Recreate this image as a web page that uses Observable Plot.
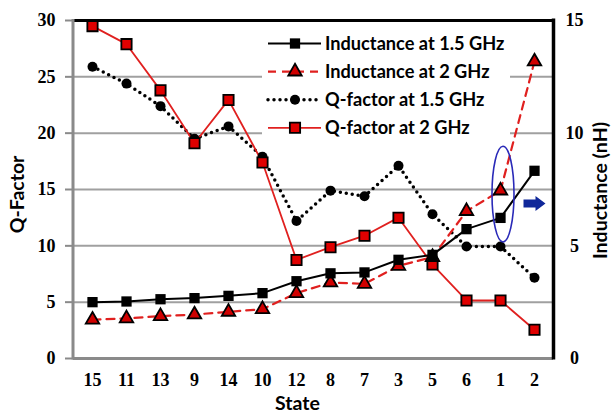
<!DOCTYPE html>
<html><head><meta charset="utf-8">
<script src="https://cdn.jsdelivr.net/npm/d3@7"></script>
<script src="https://cdn.jsdelivr.net/npm/@observablehq/plot@0.6"></script>
<style>body{margin:0;background:#fff}</style>
</head><body><div id="chart"></div>
<script>
// ---- data ----
const states = ["15","11","13","9","14","10","12","8","7","3","5","6","1","2"];
const ind15 = [2.5,2.53,2.63,2.68,2.78,2.9,3.43,3.78,3.82,4.38,4.6,5.74,6.24,8.33];   // nH
const ind2  = [1.72,1.78,1.88,1.95,2.07,2.19,2.9,3.37,3.31,4.11,4.5,6.54,7.45,13.18]; // nH
const q15   = [25.9,24.4,22.4,19.5,20.6,17.9,12.2,14.9,14.4,17.1,12.8,9.94,9.94,7.16];
const q2    = [29.5,27.9,23.8,19.1,22.95,17.4,8.75,9.88,10.9,12.5,8.34,5.15,5.15,2.55];
const qTicks = [0,5,10,15,20,25,30];
const lTicks = [0,5,10,15];
const gridQ = [5,10,15,20,25];
const seriesNames = ["Inductance at 1.5 GHz","Inductance at 2 GHz","Q-factor at 1.5 GHz","Q-factor at 2 GHz"];
const highlightState = "1";
const highlightRange = [10.3, 18.8];   // Q-axis units
const arrowState = "2";
const arrowValue = 13.75;             // Q-axis units

(function () {
const ratio = 30 / 15; // Q-axis per nH
const rows = states.map((s, i) => ({state: s, ind15: ind15[i], ind2: ind2[i], q15: q15[i], q2: q2[i]}));

const RED = "#e0201f";
const serif = "'Liberation Serif', 'Times New Roman', serif";
const sans = "Lato, 'Open Sans', sans-serif";

const arrowSymbol = {
  draw(ctx) {
    ctx.moveTo(-11, -4); ctx.lineTo(1, -4); ctx.lineTo(1, -7.5); ctx.lineTo(11, 0);
    ctx.lineTo(1, 7.5); ctx.lineTo(1, 4); ctx.lineTo(-11, 4); ctx.closePath();
  }
};

const plot = Plot.plot({
  width: 611, height: 414,
  marginLeft: 73, marginRight: 58, marginTop: 20, marginBottom: 56,
  x: {type: "point", domain: states, padding: 0.5, axis: null},
  y: {domain: [0, 30], axis: null},
  marks: [
    Plot.ruleY(gridQ, {stroke: "#a0a0a0", strokeWidth: 2}),
    Plot.ruleY([0], {stroke: "#8a8a8a", strokeWidth: 3}),
    Plot.ruleY([30], {stroke: "#000", strokeWidth: 3}),
    Plot.axisY(qTicks, {anchor: "left", tickSize: 8, tickPadding: 10, stroke: "#8a8a8a", strokeWidth: 2,
      fill: "#000", fontFamily: serif, fontWeight: "bold", fontSize: 18, label: null}),
    Plot.axisY(lTicks.map(d => d * ratio), {anchor: "right", tickSize: 0, tickPadding: 21, textAnchor: "middle",
      tickFormat: d => d / ratio, fill: "#000", fontFamily: serif, fontWeight: "bold", fontSize: 18, label: null}),
    Plot.axisX({anchor: "bottom", tickSize: 0, tickPadding: 15, fill: "#000",
      fontFamily: serif, fontWeight: "bold", fontSize: 18, label: null}),
    Plot.text(["Q-Factor"], {frameAnchor: "left", textAnchor: "middle", lineAnchor: "middle", dx: -56, dy: 5, rotate: -90,
      fontFamily: sans, fontWeight: "bold", fontSize: 19.5, fill: "#000"}),
    Plot.text(["Inductance (nH)"], {frameAnchor: "right", textAnchor: "middle", lineAnchor: "middle", dx: 47, dy: 1, rotate: -90,
      fontFamily: sans, fontWeight: "bold", fontSize: 19.5, fill: "#000"}),
    Plot.text(["State"], {frameAnchor: "bottom", textAnchor: "middle", lineAnchor: "middle", dx: -16, dy: 45,
      fontFamily: sans, fontWeight: "bold", fontSize: 19.5, fill: "#000"}),
    // series
    Plot.line(rows, {x: "state", y: d => d.q15, stroke: "#000", strokeWidth: 3.5, strokeDasharray: "0,6", strokeLinecap: "round"}),
    Plot.line(rows, {x: "state", y: d => d.q2, stroke: RED, strokeWidth: 1.8}),
    Plot.line(rows, {x: "state", y: d => d.ind2 * ratio, stroke: RED, strokeWidth: 2.2, strokeDasharray: "8,6"}),
    Plot.line(rows, {x: "state", y: d => d.ind15 * ratio, stroke: "#000", strokeWidth: 2}),
    Plot.dot(rows, {x: "state", y: d => d.q15, r: 5, fill: "#000"}),
    Plot.dot(rows, {x: "state", y: d => d.q2, symbol: "square", r: 5.8, fill: "#e00000", stroke: "#000", strokeWidth: 1.8}),
    Plot.dot(rows, {x: "state", y: d => d.ind2 * ratio, symbol: "triangle", r: 5, fill: "#d00000", stroke: "#000", strokeWidth: 1.8}),
    Plot.dot(rows, {x: "state", y: d => d.ind15 * ratio, symbol: "square", r: 5.8, fill: "#000"}),
    Plot.dot([{s: arrowState, v: arrowValue}], {x: "s", y: "v", symbol: arrowSymbol, fill: "#10289a"})
  ]
});

const svg = d3.select(plot);
const xS = plot.scale("x"), yS = plot.scale("y");
const yTop = yS.apply(30), yBot = yS.apply(0);
// frame verticals
svg.append("line").attr("x1", 73).attr("x2", 73).attr("y1", yTop - 1).attr("y2", yBot + 1.5)
  .attr("stroke", "#8a8a8a").attr("stroke-width", 3);
svg.append("line").attr("x1", 553.5).attr("x2", 553.5).attr("y1", yTop - 1.5).attr("y2", yBot + 1.5)
  .attr("stroke", "#000").attr("stroke-width", 3.5);
// highlight ellipse
const cy = (yS.apply(highlightRange[0]) + yS.apply(highlightRange[1])) / 2;
const ry = (yS.apply(highlightRange[0]) - yS.apply(highlightRange[1])) / 2;
svg.append("ellipse").attr("cx", xS.apply(highlightState) + 3).attr("cy", cy).attr("rx", 11).attr("ry", ry)
  .attr("fill", "none").attr("stroke", "#2a2ab8").attr("stroke-width", 1.6);

// legend
const lg = svg.append("g").attr("text-anchor", "start");
lg.append("rect").attr("x", 262).attr("y", 28).attr("width", 248).attr("height", 112).attr("fill", "#fff");
const styles = [
  {stroke: "#000", w: 2, dash: "none", cap: "butt", sym: d3.symbolSquare, r: 5.8, fill: "#000", ms: "none"},
  {stroke: RED, w: 2.2, dash: "8,6", cap: "butt", sym: d3.symbolTriangle, r: 5, fill: "#d00000", ms: "#000"},
  {stroke: "#000", w: 3.5, dash: "0,6", cap: "round", sym: d3.symbolCircle, r: 5, fill: "#000", ms: "none"},
  {stroke: RED, w: 1.8, dash: "none", cap: "butt", sym: d3.symbolSquare, r: 5.8, fill: "#e00000", ms: "#000"}
];
seriesNames.forEach((name, i) => {
  const st = styles[i];
  const yy = 43.5 + i * 28.1;
  lg.append("line").attr("x1", 268).attr("x2", 321).attr("y1", yy).attr("y2", yy)
    .attr("stroke", st.stroke).attr("stroke-width", st.w).attr("stroke-dasharray", st.dash)
    .attr("stroke-linecap", st.cap);
  lg.append("path").attr("transform", `translate(295,${yy})`)
    .attr("d", d3.symbol(st.sym, st.r * st.r * Math.PI)())
    .attr("fill", st.fill).attr("stroke", st.ms).attr("stroke-width", 1.8);
  lg.append("text").attr("x", 325).attr("y", yy).attr("dy", "0.36em").attr("text-anchor", "start")
    .attr("font-family", sans).attr("font-weight", "bold").attr("font-size", 18.2)
    .attr("fill", "#000").text(name);
});

document.getElementById("chart").appendChild(plot);
})();
</script>
</body></html>
